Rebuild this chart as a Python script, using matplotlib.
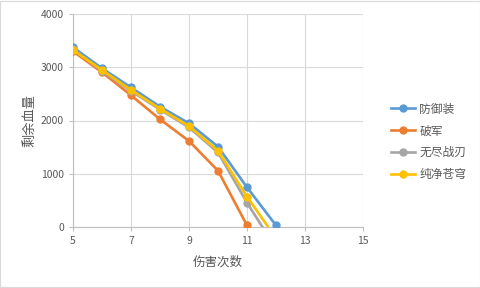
import numpy as np
import matplotlib
matplotlib.use("Agg")
import matplotlib.pyplot as plt

plt.rcParams['font.family'] = ['Noto Sans CJK SC', 'DejaVu Sans']

# data
hits = [5, 6, 7, 8, 9, 10, 11, 12]
fangyu = [3375, 2980, 2620, 2260, 1947, 1508, 745, 30]
pojun = [3300, 2905, 2473, 2023, 1615, 1057, 30]
wujin = [3340, 2930, 2555, 2205, 1870, 1400, 456, -400]
chunjing = [3324, 2948, 2573, 2222, 1895, 1433, 570, -210]

names = ['防御装', '破军', '无尽战刃', '纯净苍穹']
colors = ['#5B9BD5', '#ED7D31', '#A5A5A5', '#FFC000']
series = [fangyu, pojun, wujin, chunjing]

fig = plt.figure(figsize=(4.81, 2.88), dpi=100)
ax = fig.add_axes([73 / 481, 1 - 227 / 288, 290 / 481, 213 / 288])

for name, vals, c in zip(names, series, colors):
    ax.plot(hits[:len(vals)], vals, color=c, lw=1.9, marker='o', ms=5,
            label=name, zorder=3)

ax.set_xlim(5, 15)
ax.set_ylim(0, 4000)
ax.set_xticks(np.arange(5, 16, 2))
ax.set_yticks(np.arange(0, 4001, 1000))
ax.grid(True, color='#D9D9D9', lw=0.8)
ax.set_axisbelow(True)
for s in ['top', 'right']:
    ax.spines[s].set_visible(False)
for s in ['left', 'bottom']:
    ax.spines[s].set_color('#BFBFBF')
    ax.spines[s].set_linewidth(0.8)
ax.tick_params(colors='#BFBFBF', labelcolor='#595959', labelsize=7.5,
               length=3, width=0.8)
ax.set_xlabel('伤害次数', fontsize=9, color='#595959', labelpad=7)
ax.set_ylabel('剩余血量', fontsize=9.5, color='#595959', labelpad=3)

leg = ax.legend(loc='center left', bbox_to_anchor=(1.06, 0.40),
                frameon=False, fontsize=8.5, handlelength=2.0,
                labelspacing=0.75, handletextpad=0.4)
for t in leg.get_texts():
    t.set_color('#595959')

fig.patches.append(plt.Rectangle((0.001, 0.002), 0.997, 0.995,
                                 transform=fig.transFigure, fill=False,
                                 ec='#D9D9D9', lw=0.8))

fig.savefig('out.png', dpi=100)
